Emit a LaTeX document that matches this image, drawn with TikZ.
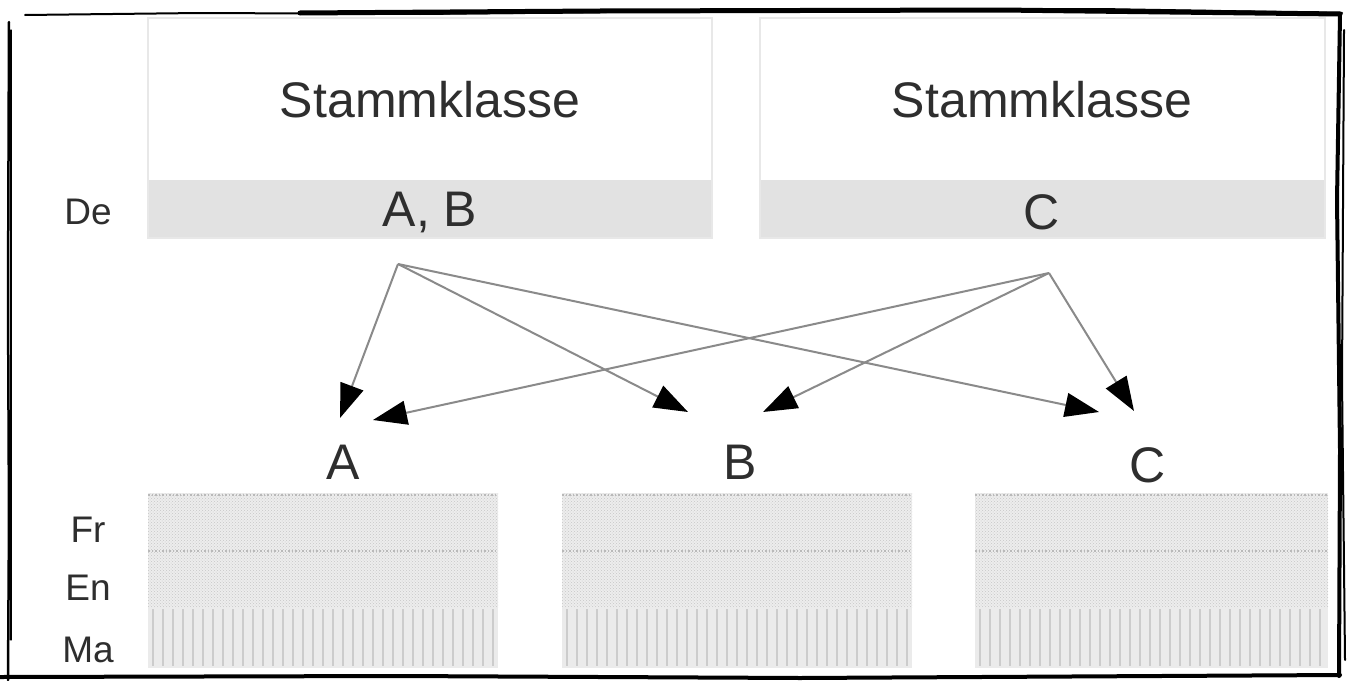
\documentclass[tikz,border=0pt]{standalone}
\usepackage{fontspec}
\setmainfont{Liberation Sans}
\usetikzlibrary{arrows.meta,patterns}
\definecolor{ink}{HTML}{2E2E2E}
\definecolor{band}{HTML}{E2E2E2}
\definecolor{wire}{HTML}{8A8A8A}
\tikzset{
  classbox/.style={draw=gray!18, line width=1.5pt, fill=white},
  bandbox/.style={fill=band, draw=none},
  big/.style={text=ink, font=\fontsize{50}{58}\selectfont},
  rowlabel/.style={text=ink, font=\fontsize{37}{44}\selectfont},
  hatchrow/.style={fill=gray!14, pattern=crosshatch dots, pattern color=gray!45},
  link/.style={draw=wire, line width=2pt, -{Triangle[length=34pt, width=24pt, color=black]}},
  frame/.style={black, line cap=round, line join=round},
}
\begin{document}
\begin{tikzpicture}[x=1pt, y=-1pt]
\useasboundingbox (0,0) rectangle (1351,680);
\fill[white] (0,0) rectangle (1351,680);

% class boxes with German band
\draw[classbox] (148,18) rectangle (712,238);
\fill[bandbox] (149,180) rectangle (711,237);
\draw[classbox] (760,18) rectangle (1325,238);
\fill[bandbox] (761,180) rectangle (1324,237);
\node[big] (k1) at (430,100) {Stammklasse};
\node[big] (k2) at (1042,100) {Stammklasse};
\node[big] (g1) at (430,212) {A, B};
\node[big] (g2) at (1042,212) {C};
\node[rowlabel] (de) at (88,212) {De};

% level groups
\node[big] (A) at (343,462) {A};
\node[big] (B) at (740,462) {B};
\node[big] (C) at (1148,465) {C};

\coordinate (sAB) at (398,264);
\coordinate (sC) at (1049,273);
\coordinate (tA1) at (340,418);
\coordinate (tA2) at (373,420);
\coordinate (tB1) at (688,412);
\coordinate (tB2) at (763,412);
\coordinate (tC1) at (1099,412);
\coordinate (tC2) at (1134,411);

\draw[link] (sAB) -- (tA1);
\draw[link] (sAB) -- (tB1);
\draw[link] (sAB) -- (tC1);
\draw[link] (sC) -- (tA2);
\draw[link] (sC) -- (tB2);
\draw[link] (sC) -- (tC2);

% course blocks: French, English, Maths
\foreach \xa/\xb in {148/498, 562/912, 975/1328} {
  \fill[gray!14] (\xa,493) rectangle (\xb,607);
  \fill[hatchrow] (\xa,493) rectangle (\xb,607);
  \draw[gray!55, line width=1.5pt, dotted] (\xa,495) -- (\xb,495);
  \draw[gray!55, line width=1.5pt, dotted] (\xa,551) -- (\xb,551);
  \fill[gray!16] (\xa,607) rectangle (\xb,668);
  \foreach \k in {0,...,34} {
    \draw[gray!40, line width=1.6pt] ({\xa+5+\k*10},609) -- ({\xa+5+\k*10},666);
  }
}
\node[rowlabel] (fr) at (88,530) {Fr};
\node[rowlabel] (en) at (88,588) {En};
\node[rowlabel] (ma) at (88,650) {Ma};

% sketched frame
\draw[frame, line width=2.5pt] (9,22) -- (8,300) -- (9,520) -- (8,680);
\draw[frame, line width=1.2pt] (11,30) -- (11,640);
\draw[frame, line width=2pt] (25,15) -- (200,13) -- (420,14) -- (700,11) -- (1100,9) -- (1342,13);
\draw[frame, line width=5pt] (300,13) -- (600,11) -- (1000,10) -- (1340,14);
\draw[frame, line width=4pt] (1340,14) -- (1337,200) -- (1340,450) -- (1339,676);
\draw[frame, line width=2pt] (1344,30) -- (1342,380) -- (1345,660);
\draw[frame, line width=4pt] (0,677) -- (400,676) -- (800,678) -- (1340,675);
\end{tikzpicture}
\end{document}
